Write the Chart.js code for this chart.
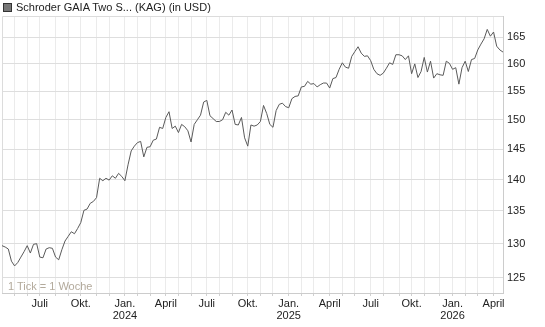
<!DOCTYPE html>
<html>
<head>
<meta charset="utf-8">
<script src="https://cdn.jsdelivr.net/npm/chart.js@4"></script>
<style>
    body { margin: 0; background: #fff; }
    #wrap { position: relative; width: 545px; height: 327px; font-family: "Liberation Sans", Arial, sans-serif; }
    #legende { position: absolute; left: 3px; top: 1px; font-size: 11px; color: #222; white-space: nowrap; }
    #legende span.box { display: inline-block; width: 7px; height: 7px; background: #777; border: 1px solid #333; margin-right: 4px; vertical-align: -1px; }
    #tickInfo { position: absolute; left: 8px; top: 280px; font-size: 11px; color: #b3aa9c; }
</style>
</head>
<body>
<div id="wrap">
    <canvas id="myChart" width="545" height="327"></canvas>
    <div id="legende"><span class="box"></span>Schroder GAIA Two S... (KAG) (in USD)</div>
    <div id="tickInfo">1 Tick = 1 Woche</div>
</div>
<script>
// Wochenwerte ab 9. April 2023 (Sonntag)
const startDatum = new Date(2023, 3, 9);
const kurse = [
    129.7, 129.5, 129.2, 127.4, 126.7, 127.2, 128.0, 128.8, 129.7, 128.6,
    129.9, 130.0, 128.0, 127.9, 129.2, 129.4, 129.3, 128.0, 127.6, 129.1,
    130.4, 131.1, 131.8, 131.5, 132.3, 133.2, 135.1, 135.3, 136.2, 136.5,
    137.1, 140.2, 139.8, 140.2, 139.9, 140.6, 140.2, 141.0, 140.5, 139.8,
    142.4, 144.7, 145.5, 146.1, 146.3, 143.7, 145.3, 145.4, 146.5, 146.7,
    148.7, 148.5, 150.4, 151.4, 148.5, 148.9, 147.8, 149.2, 148.8, 148.1,
    146.2, 149.2, 150.0, 150.8, 153.1, 153.4, 150.7, 150.2, 149.7, 149.7,
    150.0, 151.3, 150.8, 151.7, 149.2, 149.1, 150.4, 146.9, 145.5, 149.1,
    148.9, 149.1, 149.7, 152.5, 151.1, 149.2, 148.7, 151.6, 152.7, 152.9,
    152.3, 152.1, 153.7, 154.1, 154.2, 155.8, 155.9, 156.8, 156.3, 156.4,
    155.8, 156.2, 156.5, 156.5, 155.6, 157.3, 157.5, 159.0, 160.2, 159.4,
    159.2, 161.4, 162.3, 163.2, 162.0, 161.4, 161.5, 160.6, 159.0, 158.2,
    157.9, 158.3, 159.2, 160.2, 159.9, 161.7, 161.7, 161.5, 160.8, 161.5,
    158.2, 160.0, 157.5, 158.6, 161.2, 158.5, 160.5, 157.4, 158.2, 158.0,
    157.9, 160.5, 160.1, 159.0, 159.3, 156.3, 159.3, 160.5, 158.6, 160.8,
    161.0, 162.6, 163.7, 164.7, 166.5, 165.2, 166.0, 163.3, 162.6, 162.2
];
const yTicks = [125, 130, 135, 140, 145, 150, 155, 160, 165];
const monatsNamen = { 0: 'Jan.', 3: 'April', 6: 'Juli', 9: 'Okt.' };

let datums = [];
for (let i = 0; i < kurse.length; i++) {
    let d = new Date(startDatum);
    d.setDate(d.getDate() + i * 7);
    datums.push(d);
}
let etiquetes = datums.map(d => d.toISOString().slice(0, 10));

function monatsAnfang(i) {
    return i > 0 && datums[i].getMonth() !== datums[i - 1].getMonth();
}

const rahmen = {
    id: 'rahmen',
    beforeDatasetsDraw(chart) {
        const a = chart.chartArea, ctx = chart.ctx;
        ctx.save();
        ctx.strokeStyle = '#dcdcdc';
        ctx.lineWidth = 1;
        ctx.beginPath();
        ctx.moveTo(a.left + 0.5, a.bottom);
        ctx.lineTo(a.left + 0.5, a.top + 0.5);
        ctx.lineTo(a.right, a.top + 0.5);
        ctx.stroke();
        ctx.restore();
    }
};

const ctx = document.getElementById('myChart');
const myChart = new Chart(ctx, {
    type: 'line',
    data: {
        labels: etiquetes,
        datasets: [{
            data: kurse,
            borderColor: '#5a5a5a',
            borderWidth: 1,
            pointRadius: 0,
            tension: 0,
            fill: false
        }]
    },
    options: {
        responsive: false,
        animation: false,
        layout: { padding: { top: 16, left: 2, right: 0, bottom: 0 } },
        plugins: { legend: { display: false }, tooltip: { enabled: false } },
        scales: {
            x: {
                type: 'category',
                offset: false,
                grid: {
                    color: c => monatsAnfang(c.index) ? '#ebebeb' : 'rgba(0,0,0,0)',
                    tickColor: c => monatsAnfang(c.index) ? '#d0d0d0' : 'rgba(0,0,0,0)',
                    tickLength: 3
                },
                border: { color: '#cccccc' },
                ticks: {
                    autoSkip: false,
                    maxRotation: 0,
                    minRotation: 0,
                    padding: 2,
                    color: '#222',
                    font: { family: '"Liberation Sans", Arial, sans-serif', size: 11, lineHeight: 1.1 },
                    callback: function(value, index) {
                        if (!monatsAnfang(index)) return '';
                        let m = datums[index].getMonth();
                        if (!(m in monatsNamen)) return '';
                        if (m === 0) return [monatsNamen[m], String(datums[index].getFullYear())];
                        return monatsNamen[m];
                    }
                },
                afterFit: function(scale) { scale.height = 34; }
            },
            y: {
                type: 'logarithmic',
                position: 'right',
                min: 122.8,
                max: 169.1,
                grid: { color: '#dedede', drawTicks: false },
                border: { color: '#cccccc' },
                ticks: {
                    padding: 4,
                    color: '#222',
                    font: { family: '"Liberation Sans", Arial, sans-serif', size: 11 },
                    callback: value => String(value)
                },
                afterBuildTicks: function(scale) {
                    scale.ticks = yTicks.map(v => ({ value: v }));
                },
                afterFit: function(scale) { scale.width = 42; }
            }
        }
    },
    plugins: [rahmen]
});
</script>
</body>
</html>
